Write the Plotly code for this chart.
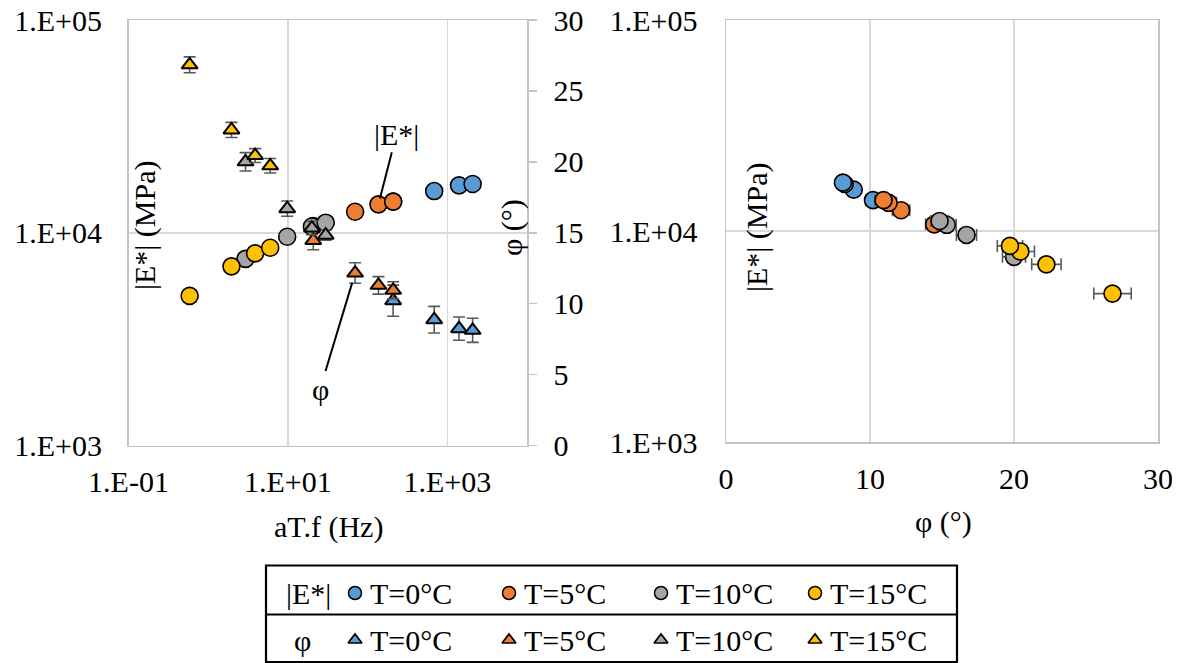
import math
import plotly.graph_objects as go

W, H = 1183, 663
FONT = "Liberation Serif"
FS = 30

# ---------------- data ----------------
temps = ["T=0°C", "T=5°C", "T=10°C", "T=15°C"]
colors = ["#5B9BD5", "#ED7D31", "#A5A5A5", "#FFC000"]

# reduced frequency aT.f (Hz)
aTf_T0 = [209, 685, 1403, 2080]
aTf_T5 = [20.8, 69.7, 136.8, 209.4]
aTf_T10 = [2.94, 9.8, 20.0, 29.8]
aTf_T15 = [0.585, 1.96, 3.88, 6.0]

# |E*| (MPa)
E_T0 = [14000, 15700, 16700, 16950]
E_T5 = [10750, 12550, 13600, 14000]
E_T10 = [7540, 9580, 10700, 11150]
E_T15 = [5050, 6950, 8000, 8500]

# phase angle phi (deg)
phi_T0 = [10.21, 8.87, 8.24, 8.12]
phi_T5 = [14.46, 12.16, 11.29, 10.94]
phi_T10 = [20.00, 16.70, 15.33, 14.83]
phi_T15 = [26.84, 22.25, 20.44, 19.72]

# phi standard deviation as drawn in the left chart (y error bars)
phi_err_left_T0 = [1.1, 0.94, 0.82, 0.85]
phi_err_left_T5 = [0.66, 0.72, 0.62, 0.6]
phi_err_left_T10 = [0.65, 0.54, 0.47, 0.35]
phi_err_left_T15 = [0.56, 0.53, 0.49, 0.51]

# phi standard deviation as drawn in the right chart (x error bars)
phi_err_right_T0 = [0.5, 0.3, 0.3, 0.3]
phi_err_right_T5 = [0.6, 0.6, 0.55, 0.6]
phi_err_right_T10 = [0.8, 0.7, 0.65, 0.6]
phi_err_right_T15 = [1.3, 1.02, 0.98, 0.88]

aTf = [aTf_T0, aTf_T5, aTf_T10, aTf_T15]
E = [E_T0, E_T5, E_T10, E_T15]
phi = [phi_T0, phi_T5, phi_T10, phi_T15]
phi_err_left = [phi_err_left_T0, phi_err_left_T5, phi_err_left_T10, phi_err_left_T15]
phi_err_right = [phi_err_right_T0, phi_err_right_T5, phi_err_right_T10, phi_err_right_T15]

logE_ticks = [1e3, 1e4, 1e5]
logE_ticktext = ["1.E+03", "1.E+04", "1.E+05"]
f_ticks = [0.1, 10, 1000]
f_ticktext = ["1.E-01", "1.E+01", "1.E+03"]
phi_ticks = [0, 5, 10, 15, 20, 25, 30]
phi_x_ticks = [0, 10, 20, 30]

legend_col_x = [355, 509, 661, 815]   # pixel layout of the legend table
legend_row_y = [593, 640]

# ---------------- figure ----------------
fig = go.Figure()

GRID = "#D9D9D9"
AXL = "#C4C4C4"
ERRC = "#595959"

def px(x):
    return x / W

def py(y):
    return 1 - y / H

# left chart: |E*| circles
for i in range(4):
    fig.add_trace(go.Scatter(
        x=aTf[i], y=E[i], mode="markers", xaxis="x", yaxis="y",
        marker=dict(symbol="circle", size=17, color=colors[i],
                    line=dict(color="black", width=1.6)),
        showlegend=False, hoverinfo="skip"))
# left chart: phi triangles
for i in range(4):
    fig.add_trace(go.Scatter(
        x=aTf[i], y=phi[i], mode="markers", xaxis="x", yaxis="y2",
        error_y=dict(type="data", array=phi_err_left[i], visible=True,
                     color=ERRC, thickness=1.6, width=6),
        marker=dict(symbol="triangle-up", size=14, color=colors[i],
                    line=dict(color="black", width=2)),
        showlegend=False, hoverinfo="skip"))
# right chart: |E*| vs phi
for i in range(4):
    fig.add_trace(go.Scatter(
        x=phi[i], y=E[i], mode="markers", xaxis="x2", yaxis="y3",
        error_x=dict(type="data", array=phi_err_right[i], visible=True,
                     color=ERRC, thickness=1.6, width=6),
        marker=dict(symbol="circle", size=17, color=colors[i],
                    line=dict(color="black", width=1.6)),
        showlegend=False, hoverinfo="skip"))
# legend table markers (on a hidden pixel-scaled axis)
for i in range(4):
    fig.add_trace(go.Scatter(
        x=[legend_col_x[i]], y=[legend_row_y[0]], mode="markers",
        xaxis="x3", yaxis="y4",
        marker=dict(symbol="circle", size=13, color=colors[i],
                    line=dict(color="black", width=1.5)),
        showlegend=False, hoverinfo="skip"))
    fig.add_trace(go.Scatter(
        x=[legend_col_x[i]], y=[legend_row_y[1]], mode="markers",
        xaxis="x3", yaxis="y4",
        marker=dict(symbol="triangle-up", size=12, color=colors[i],
                    line=dict(color="black", width=1.7)),
        showlegend=False, hoverinfo="skip"))

tickfont = dict(family=FONT, size=FS, color="black")

common = dict(showline=True, linecolor=AXL, linewidth=1.5, gridcolor=GRID,
              gridwidth=1.5, zeroline=False, tickfont=tickfont, ticks="",
              automargin=False, ticklabeloverflow="allow")

fig.update_layout(
    width=W, height=H,
    margin=dict(l=0, r=0, t=0, b=0, pad=0, autoexpand=False),
    paper_bgcolor="white", plot_bgcolor="rgba(0,0,0,0)",
    font=dict(family=FONT, size=FS, color="black"),
    showlegend=False,
    xaxis=dict(domain=[px(128.5), px(527)], type="log", range=[-1, 4],
               tickvals=f_ticks, ticktext=f_ticktext, showgrid=True,
               anchor="y", ticklabelstandoff=9, mirror=True, **common),
    yaxis=dict(domain=[py(445.5), py(20)], type="log", range=[3, 5],
               tickvals=logE_ticks, ticktext=logE_ticktext, showgrid=True,
               anchor="x", ticklabelstandoff=19, **common),
    yaxis2=dict(overlaying="y", side="right", anchor="x", range=[0, 30],
                tickvals=phi_ticks, showgrid=False, showline=True,
                linecolor=AXL, linewidth=1.5, ticks="outside", ticklen=8,
                tickcolor=AXL, tickwidth=1.5, tickfont=tickfont,
                ticklabelstandoff=11, zeroline=False, automargin=False,
                ticklabeloverflow="allow"),
    xaxis2=dict(domain=[px(726), px(1158)], range=[0, 30],
                tickvals=phi_x_ticks, showgrid=True, anchor="y3",
                ticklabelstandoff=9, mirror=True, **common),
    yaxis3=dict(domain=[py(442), py(20)], type="log", range=[3, 5],
                tickvals=logE_ticks, ticktext=logE_ticktext, showgrid=True,
                anchor="x2", ticklabelstandoff=21, mirror=True, **common),
    xaxis3=dict(domain=[px(265), px(957)], range=[265, 957], visible=False,
                anchor="y4", fixedrange=True, automargin=False),
    yaxis4=dict(domain=[py(663), py(563)], range=[663, 563], visible=False,
                anchor="x3", fixedrange=True, automargin=False),
)

annos = []
txt = dict(family=FONT, size=FS, color="black")
cm = dict(xanchor="center", yanchor="middle", showarrow=False, font=txt,
          xref="paper", yref="paper")
# axis titles
annos.append(dict(text="|E*| (MPa)", x=px(145), y=py(225), textangle=-90, **cm))
annos.append(dict(text="φ (°)", x=px(512), y=py(227), textangle=-90, **cm))
annos.append(dict(text="aT.f (Hz)", x=px(328), y=py(527), **cm))
annos.append(dict(text="|E*| (MPa)", x=px(757), y=py(227), textangle=-90, **cm))
annos.append(dict(text="φ (°)", x=px(943), y=py(522), **cm))
# callouts
annos.append(dict(text="|E*|", xref="x", yref="y",
                  x=math.log10(aTf_T5[2]), y=math.log10(E_T5[2]),
                  ax=18, ay=-70, showarrow=True, arrowhead=0, arrowwidth=2,
                  arrowcolor="black", standoff=6, font=txt))
annos.append(dict(text="φ", xref="x", yref="y2",
                  x=math.log10(aTf_T5[1]), y=phi_T5[1],
                  ax=-35, ay=116, showarrow=True, arrowhead=0, arrowwidth=2,
                  arrowcolor="black", standoff=10, font=txt))
# legend table texts
annos.append(dict(text="|E*|", x=308, y=legend_row_y[0], xref="x3", yref="y4",
                  xanchor="center", yanchor="middle", showarrow=False, font=txt))
annos.append(dict(text="φ", x=302, y=legend_row_y[1], xref="x3", yref="y4",
                  xanchor="center", yanchor="middle", showarrow=False, font=txt))
for r in range(2):
    for i in range(4):
        annos.append(dict(text=temps[i], x=legend_col_x[i] + 13, y=legend_row_y[r],
                          xref="x3", yref="y4", xanchor="left", yanchor="middle",
                          showarrow=False, font=txt))
fig.update_layout(annotations=annos)

fig.update_layout(shapes=[
    dict(type="rect", xref="paper", yref="paper", x0=px(266), x1=px(957),
         y0=py(662), y1=py(565.5), line=dict(color="black", width=2.2)),
    dict(type="line", xref="paper", yref="paper", x0=px(266), x1=px(957),
         y0=py(614.5), y1=py(614.5), line=dict(color="black", width=2.2)),
])

fig.write_html("out.html",
               config={"displayModeBar": False, "staticPlot": True},
               post_script="document.body.style.margin='0px';"
                           "document.body.style.overflow='hidden';")
